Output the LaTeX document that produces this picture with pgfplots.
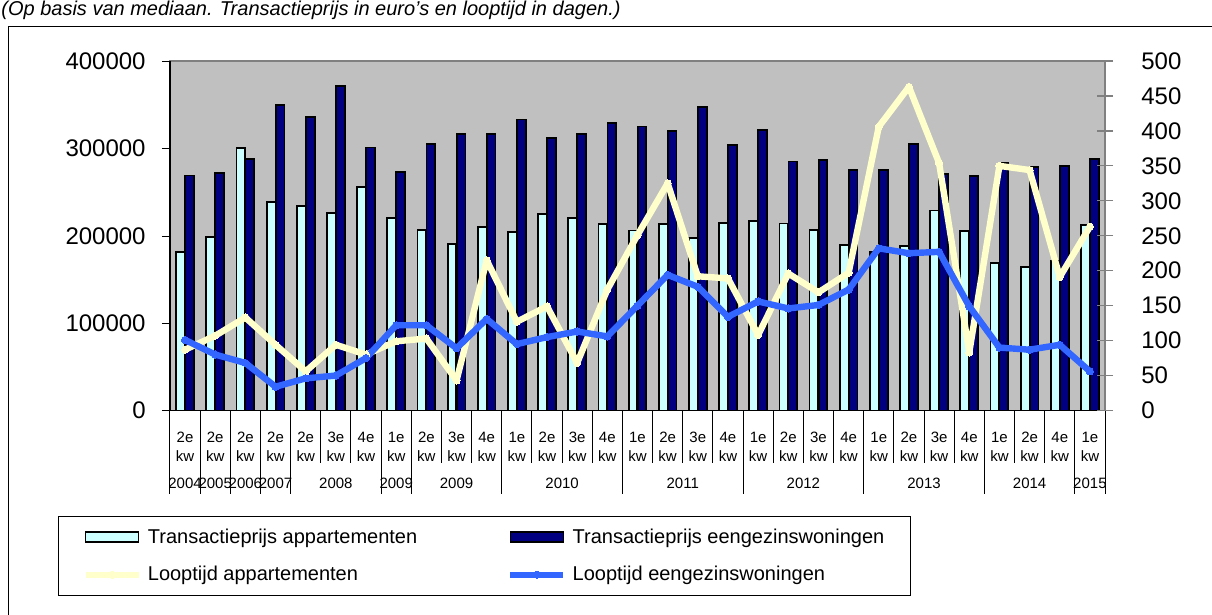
\documentclass[border=0pt]{standalone}
\usepackage{pgfplots}
\pgfplotsset{compat=1.18}
\usepackage{pgfplotstable}
\usepackage{fontspec}
\setmainfont{Liberation Sans}

\definecolor{plotbg}{HTML}{C0C0C0}
\definecolor{aptbar}{HTML}{CCFFFF}
\definecolor{ewbar}{HTML}{000080}
\definecolor{aptline}{HTML}{FFFFCC}
\definecolor{ewline}{HTML}{3366FF}
\definecolor{framegray}{HTML}{808080}

% i = kwartaal-index; prijzen in euro's, looptijd in dagen
\pgfplotstableread{
i prijsapp prijsegw loopapp loopegw
0  181000 269000  87 101
1  199000 272000 107  80
2  300000 288000 133  68
3  239000 350000  94  34
4  234000 336000  56  46
5  226000 371000  94  50
6  256000 301000  80  75
7  220000 273000  99 122
8  207000 305000 103 122
9  191000 316000  43  89
10 210000 316000 215 131
11 204000 333000 127  95
12 225000 312000 149 105
13 220000 316000  68 113
14 213000 329000 173 106
15 206000 325000 251 150
16 213000 320000 325 194
17 197000 347000 192 177
18 215000 304000 189 134
19 217000 321000 108 156
20 214000 285000 196 146
21 207000 287000 169 151
22 189000 275000 197 173
23 181000 275000 406 232
24 188000 305000 463 225
25 229000 271000 354 227
26 205000 268000  83 149
27 169000 283000 350  90
28 164000 279000 344  87
29 171000 280000 191  94
30 212000 288000 263  56
}\data

\newcommand{\kw}[1]{#1\\kw}

\pgfplotsset{
  base/.style={
    width=467.5pt, height=174.75pt, scale only axis,
    at={(85pt,-205.25pt)}, anchor=south west,
    xmin=-0.5, xmax=30.5,
    /pgf/number format/fixed,
    /pgf/number format/assume math mode=true,
    /pgf/number format/1000 sep={},
    yticklabel style={font=\fontsize{12}{14}\selectfont, inner sep=0pt},
  },
  lineleg/.style={legend image code/.code={
    \draw[##1, mark repeat=2, mark phase=2]
      plot coordinates {(0pt,0pt) (13.25pt,0pt) (26.5pt,0pt)};}},
  barleg/.style={legend image code/.code={
    \draw[fill=#1, draw=black, line width=0.8pt] (0pt,-2.5pt) rectangle (26.5pt,2.5pt);}},
}
\tikzset{jaar/.style={anchor=base, inner sep=0pt, font=\fontsize{7.5}{9}\selectfont}}

\begin{document}
\begin{tikzpicture}
\useasboundingbox (0pt,0pt) rectangle (606pt,-307.5pt);
\fill[white] (0pt,0pt) rectangle (606pt,-307.5pt);
\clip (0pt,0pt) rectangle (606pt,-307.5pt);

\node[anchor=base west, inner sep=0pt, font=\fontsize{10}{12}\selectfont\itshape]
  at (0.5pt,-8pt) {(Op basis van mediaan. Transactieprijs in euro's en looptijd in dagen.)};
\draw[black, line width=0.5pt] (4pt,-13.5pt) rectangle (620pt,-320pt);

\begin{axis}[base,
  clip=false,
  ymin=0, ymax=400000, ytick={0,100000,...,400000},
  scaled y ticks=false,
  ytick pos=left, ytick align=outside,
  major tick length=4pt,
  yticklabel style={xshift=-8pt},
  xtick={0,...,30},
  xtick pos=bottom,
  x tick style={draw=none},
  minor xtick={-0.5,0.5,...,30.5},
  minor tick length=6pt,
  xtick align=center,
  minor x tick style={black},
  y tick style={black},
  xticklabels={\kw{2e},\kw{2e},\kw{2e},\kw{2e},\kw{2e},\kw{3e},\kw{4e},
    \kw{1e},\kw{2e},\kw{3e},\kw{4e},\kw{1e},\kw{2e},\kw{3e},\kw{4e},
    \kw{1e},\kw{2e},\kw{3e},\kw{4e},\kw{1e},\kw{2e},\kw{3e},\kw{4e},
    \kw{1e},\kw{2e},\kw{3e},\kw{4e},\kw{1e},\kw{2e},\kw{4e},\kw{1e}},
  xticklabel style={align=center, font=\fontsize{7.5}{9.5}\selectfont,
    inner sep=0pt, anchor=north, yshift=-8.5pt},
  axis background/.style={fill=plotbg},
  axis line style={framegray, line width=0.8pt},
]
\addplot[ybar, bar width=0.29, bar shift=-0.15, fill=aptbar, draw=black, line width=0.9pt]
  table[x=i, y=prijsapp] {\data};
\addplot[ybar, bar width=0.29, bar shift=0.15, fill=ewbar, draw=black, line width=0.9pt]
  table[x=i, y=prijsegw] {\data};

\draw[black, line width=0.6pt] (rel axis cs:0,1) -- (rel axis cs:0,0) -- (rel axis cs:1,0);

% scheidingslijnen onder de categorieen
\pgfplotsinvokeforeach{-0.5,0.5,1.5,2.5,3.5,6.5,7.5,10.5,14.5,18.5,22.5,26.5,29.5,30.5}{
  \draw[black, line width=0.5pt] (axis cs:#1,0) -- ++(0pt,-41.5pt);
}
\pgfplotsinvokeforeach{4.5,5.5,8.5,9.5,11.5,12.5,13.5,15.5,16.5,17.5,19.5,20.5,21.5,23.5,24.5,25.5,27.5,28.5}{
  \draw[black, line width=0.5pt] (axis cs:#1,0) -- ++(0pt,-26pt);
}
\node[jaar] at ([yshift=-39pt]axis cs:0,0) {2004};
\node[jaar] at ([yshift=-39pt]axis cs:1,0) {2005};
\node[jaar] at ([yshift=-39pt]axis cs:2,0) {2006};
\node[jaar] at ([yshift=-39pt]axis cs:3,0) {2007};
\node[jaar] at ([yshift=-39pt]axis cs:5,0) {2008};
\node[jaar] at ([yshift=-39pt]axis cs:7,0) {2009};
\node[jaar] at ([yshift=-39pt]axis cs:9,0) {2009};
\node[jaar] at ([yshift=-39pt]axis cs:12.5,0) {2010};
\node[jaar] at ([yshift=-39pt]axis cs:16.5,0) {2011};
\node[jaar] at ([yshift=-39pt]axis cs:20.5,0) {2012};
\node[jaar] at ([yshift=-39pt]axis cs:24.5,0) {2013};
\node[jaar] at ([yshift=-39pt]axis cs:28,0) {2014};
\node[jaar] at ([yshift=-39pt]axis cs:30,0) {2015};
\end{axis}

\begin{axis}[base,
  ymin=0, ymax=500, ytick={0,50,...,500},
  axis y line*=right, axis x line=none,
  ytick align=center, major tick length=8pt,
  y tick style={framegray, line width=0.6pt},
  axis line style={framegray, line width=0.8pt},
  yticklabel style={xshift=14pt},
  legend columns=2,
  legend cell align=left,
  legend style={at={(axis description cs:-0.1198,-0.3019)}, anchor=north west,
    draw=black, line width=0.5pt, fill=white,
    font=\fontsize{10}{12}\selectfont,
    inner xsep=12pt, inner ysep=5pt, row sep=8pt,
    /tikz/every even column/.append style={column sep=44pt},
    /tikz/every odd column/.append style={column sep=2pt},
    nodes={inner sep=1pt}},
]
\addlegendimage{barleg=aptbar}
\addlegendentry{Transactieprijs appartementen}
\addlegendimage{barleg=ewbar}
\addlegendentry{Transactieprijs eengezinswoningen}

\addplot[aptline, line width=3.2pt, line join=round, mark=*, mark size=1.8pt,
  mark options={fill=aptline, draw=aptline, line width=0pt}, lineleg]
  table[x=i, y=loopapp] {\data};
\addlegendentry{Looptijd appartementen}
\addplot[ewline, line width=3.2pt, line join=round, mark=*, mark size=1.8pt,
  mark options={fill=ewline, draw=ewline, line width=0pt}, lineleg]
  table[x=i, y=loopegw] {\data};
\addlegendentry{Looptijd eengezinswoningen}
\end{axis}
\end{tikzpicture}
\end{document}
